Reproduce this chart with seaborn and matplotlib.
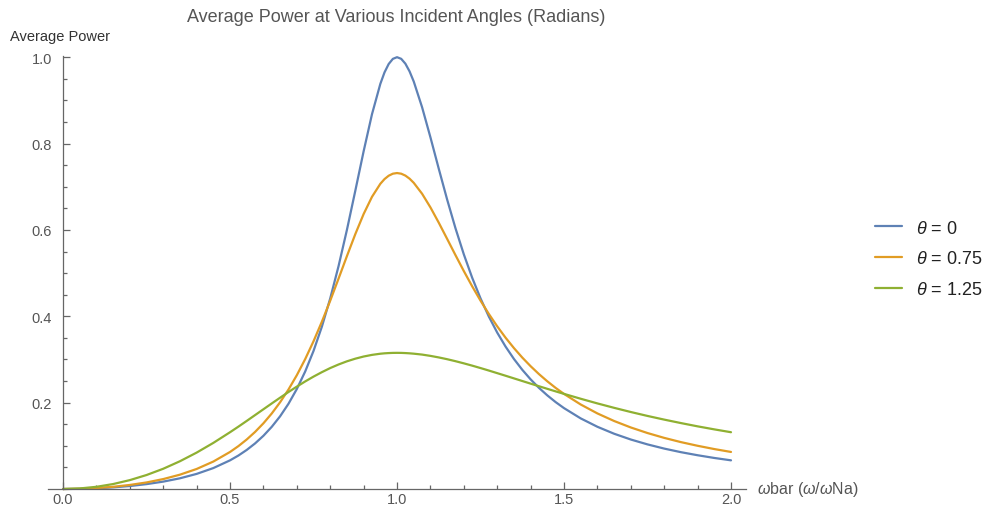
import matplotlib
matplotlib.use("Agg")
import matplotlib.pyplot as plt
from matplotlib.ticker import MultipleLocator, FixedLocator, FormatStrFormatter
import pandas as pd
import seaborn as sns

# Normalised frequency (omega / omega_Na)
omega = [0.0, 0.05, 0.1, 0.15, 0.2, 0.25, 0.3, 0.35, 0.4, 0.45, 0.5, 0.525,
         0.55, 0.575, 0.6, 0.625, 0.65, 0.675, 0.7, 0.725, 0.75, 0.775, 0.8,
         0.825, 0.85, 0.875, 0.9, 0.925, 0.95, 0.9625, 0.975, 0.9875, 1.0,
         1.0125, 1.025, 1.0375, 1.05, 1.075, 1.1, 1.125, 1.15, 1.175, 1.2,
         1.225, 1.25, 1.275, 1.3, 1.325, 1.35, 1.375, 1.4, 1.425, 1.45, 1.475,
         1.5, 1.55, 1.6, 1.65, 1.7, 1.75, 1.8, 1.85, 1.9, 1.95, 2.0]

# Average power for each incident angle
power_theta_0 = [0.0, 0.0004, 0.0016, 0.0038, 0.0069, 0.0113, 0.0171, 0.0248,
                 0.0350, 0.0485, 0.0664, 0.0775, 0.0905, 0.1056, 0.1233, 0.1441,
                 0.1685, 0.1974, 0.2316, 0.2721, 0.3198, 0.3760, 0.4414, 0.5164,
                 0.6002, 0.6904, 0.7821, 0.8679, 0.9382, 0.9648, 0.9842, 0.9961,
                 1.0, 0.9962, 0.9850, 0.9672, 0.9438, 0.8842, 0.8145, 0.7416,
                 0.6705, 0.6039, 0.5434, 0.4893, 0.4414, 0.3992, 0.3622, 0.3298,
                 0.3012, 0.2761, 0.2539, 0.2342, 0.2168, 0.2012, 0.1873, 0.1635,
                 0.1441, 0.1280, 0.1146, 0.1033, 0.0936, 0.0853, 0.0782, 0.0719,
                 0.0664]

power_theta_075 = [0.0, 0.0005, 0.0022, 0.0051, 0.0094, 0.0152, 0.0230, 0.0332,
                   0.0464, 0.0636, 0.0858, 0.0993, 0.1147, 0.1322, 0.1522, 0.1750,
                   0.2010, 0.2304, 0.2636, 0.3008, 0.3422, 0.3875, 0.4362, 0.4874,
                   0.5394, 0.5901, 0.6368, 0.6766, 0.7068, 0.7177, 0.7255, 0.7302,
                   0.7317, 0.7302, 0.7258, 0.7187, 0.7091, 0.6838, 0.6522, 0.6167,
                   0.5793, 0.5416, 0.5047, 0.4694, 0.4362, 0.4053, 0.3767, 0.3504,
                   0.3264, 0.3044, 0.2844, 0.2661, 0.2494, 0.2341, 0.2202, 0.1957,
                   0.1750, 0.1575, 0.1425, 0.1296, 0.1184, 0.1086, 0.1001, 0.0925,
                   0.0858]

power_theta_125 = [0.0, 0.0013, 0.0051, 0.0115, 0.0206, 0.0324, 0.0469, 0.0643,
                   0.0843, 0.1068, 0.1315, 0.1444, 0.1577, 0.1712, 0.1847, 0.1982,
                   0.2115, 0.2246, 0.2371, 0.2491, 0.2603, 0.2706, 0.2801, 0.2884,
                   0.2957, 0.3018, 0.3068, 0.3106, 0.3133, 0.3142, 0.3148, 0.3152,
                   0.3153, 0.3152, 0.3148, 0.3142, 0.3134, 0.3113, 0.3083, 0.3047,
                   0.3006, 0.2960, 0.2910, 0.2857, 0.2801, 0.2743, 0.2683, 0.2623,
                   0.2562, 0.2501, 0.2440, 0.2380, 0.2320, 0.2261, 0.2203, 0.2090,
                   0.1982, 0.1880, 0.1783, 0.1692, 0.1607, 0.1527, 0.1451, 0.1381,
                   0.1315]

series_labels = [r"$\theta$ = 0", r"$\theta$ = 0.75", r"$\theta$ = 1.25"]
series_colors = ["#5E81B5", "#E19C24", "#8FB032"]

x_ticks = [0.0, 0.5, 1.0, 1.5, 2.0]
y_ticks = [0.2, 0.4, 0.6, 0.8, 1.0]

n = len(omega)
df = pd.DataFrame({
    "omega": omega * 3,
    "power": power_theta_0 + power_theta_075 + power_theta_125,
    "angle": [series_labels[0]] * n + [series_labels[1]] * n + [series_labels[2]] * n,
})

sns.set_style("white")
plt.rcParams["font.family"] = ["Liberation Sans", "DejaVu Sans"]
plt.rcParams["mathtext.fontset"] = "custom"
plt.rcParams["mathtext.rm"] = "Liberation Sans"
plt.rcParams["mathtext.it"] = "Liberation Sans:italic"

axis_gray = "#666666"
text_gray = "#555555"

fig = plt.figure(figsize=(9.88, 5.10), dpi=100)
ax = fig.add_axes([0.0486, 0.0392, 0.7065, 0.8484])

sns.lineplot(data=df, x="omega", y="power", hue="angle",
             hue_order=series_labels, palette=series_colors,
             estimator=None, linewidth=1.6, ax=ax)
for line in ax.lines:
    line.set_clip_on(False)

ax.set_xlim(-0.045, 2.045)
ax.set_ylim(0, 1.002)
ax.set_xlabel("")
ax.set_ylabel("")

for side in ("top", "right"):
    ax.spines[side].set_visible(False)
ax.spines["left"].set_position(("data", 0))
ax.spines["bottom"].set_position(("data", 0))
for side in ("left", "bottom"):
    ax.spines[side].set_color(axis_gray)
    ax.spines[side].set_linewidth(0.9)

ax.xaxis.set_major_locator(FixedLocator(x_ticks))
ax.xaxis.set_minor_locator(MultipleLocator(0.1))
ax.yaxis.set_major_locator(FixedLocator(y_ticks))
ax.yaxis.set_minor_locator(FixedLocator([v / 100 for v in range(5, 100, 5)]))
ax.xaxis.set_major_formatter(FormatStrFormatter("%.1f"))
ax.yaxis.set_major_formatter(FormatStrFormatter("%.1f"))

ax.tick_params(which="both", direction="in", color=axis_gray, width=0.9,
               bottom=True, left=True, top=False, right=False)
ax.tick_params(which="major", length=5, labelsize=10.5, labelcolor=text_gray)
ax.tick_params(which="minor", length=3)
ax.tick_params(axis="y", which="major", pad=8)
ax.tick_params(axis="x", which="major", pad=2)

sns.move_legend(ax, "center left", bbox_to_anchor=(1.185, 0.532),
                frameon=False, title=None, fontsize=13, handlelength=1.5,
                handletextpad=0.75, labelspacing=0.75, borderpad=0,
                borderaxespad=0)
for t in ax.get_legend().get_texts():
    t.set_color("#222222")

fig.text(396 / 988, 1 - 18 / 510, "Average Power at Various Incident Angles (Radians)",
         ha="center", va="center", fontsize=13, color=text_gray)
fig.text(10 / 988, 1 - 37 / 510, "Average Power", ha="left", va="center",
         fontsize=10.5, color="#333333")
fig.text(757 / 988, 1 - 490 / 510, r"$\omega$bar ($\omega$/$\omega$Na)",
         ha="left", va="center", fontsize=11.5, color=text_gray)

fig.savefig("out.png", dpi=100)
